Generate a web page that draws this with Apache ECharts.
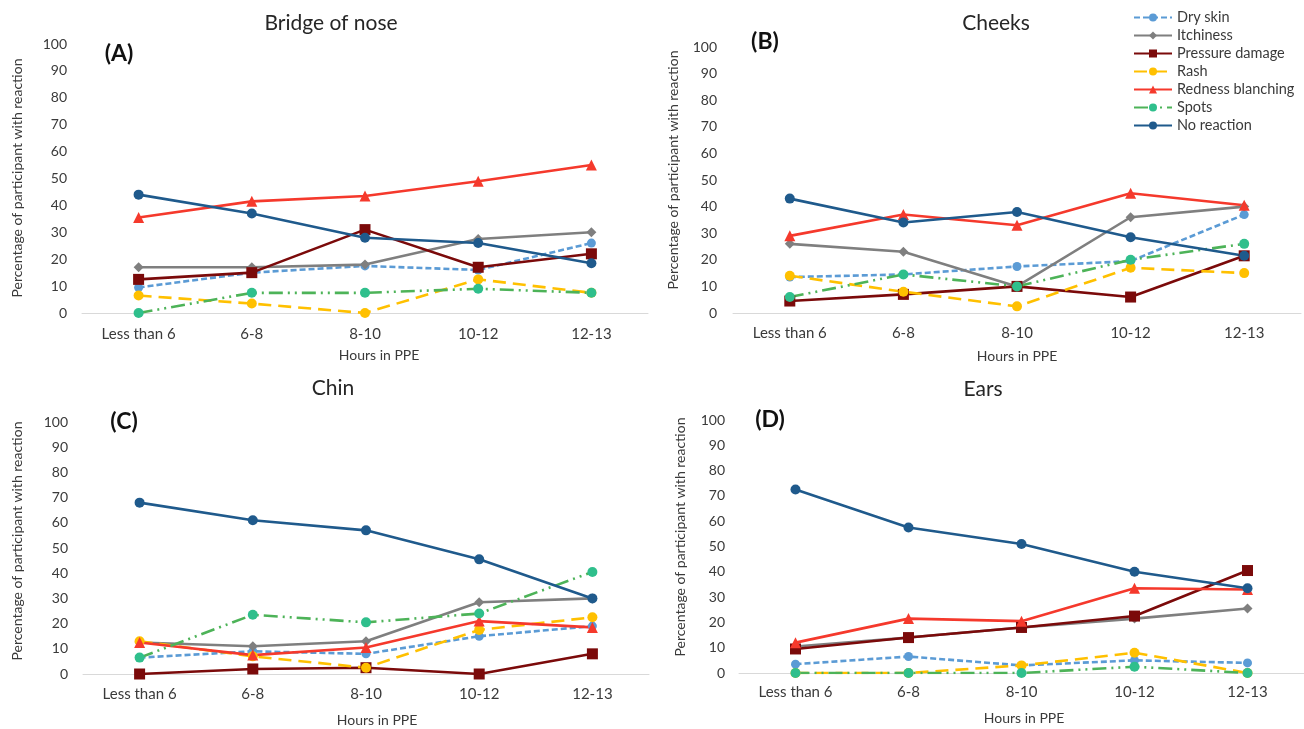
<!DOCTYPE html>
<html>
<head>
<meta charset="utf-8">
<script src="https://cdn.jsdelivr.net/npm/echarts@6/dist/echarts.min.js"></script>
<style>
html,body{margin:0;padding:0;background:#fff;}
#chart{width:1304px;height:729px;}
</style>
</head>
<body>
<div id="chart"></div>
<script>
// ---- data ----
const categories = ['Less than 6', '6-8', '8-10', '10-12', '12-13'];
const reactions = ['Dry skin', 'Itchiness', 'Pressure damage', 'Rash', 'Redness blanching', 'Spots', 'No reaction'];
const panelTitles = ['Bridge of nose', 'Cheeks', 'Chin', 'Ears'];
const panelLetters = ['(A)', '(B)', '(C)', '(D)'];
const xAxisTitle = 'Hours in PPE';
const yAxisTitle = 'Percentage of participant with reaction';

// Bridge of nose (A)
const noseDrySkin   = [9.5, 15, 17.5, 16, 26];
const noseItchiness = [17, 17, 18, 27.5, 30];
const nosePressure  = [12.5, 15, 31, 17, 22];
const noseRash      = [6.5, 3.5, 0, 12.5, 7.5];
const noseRedness   = [35.5, 41.5, 43.5, 49, 55];
const noseSpots     = [0, 7.5, 7.5, 9, 7.5];
const noseNone      = [44, 37, 28, 26, 18.5];

// Cheeks (B)
const cheekDrySkin   = [13.5, 14.5, 17.5, 19.5, 37];
const cheekItchiness = [26, 23, 10, 36, 40];
const cheekPressure  = [4.5, 7, 10, 6, 21.5];
const cheekRash      = [14, 8, 2.5, 17, 15];
const cheekRedness   = [29, 37, 33, 45, 40.5];
const cheekSpots     = [6, 14.5, 10, 20, 26];
const cheekNone      = [43, 34, 38, 28.5, 21.5];

// Chin (C)
const chinDrySkin   = [6.5, 9, 8, 15, 19];
const chinItchiness = [12.5, 11, 13, 28.5, 30];
const chinPressure  = [0, 2, 2.5, 0, 8];
const chinRash      = [13, 7, 2.5, 17.5, 22.5];
const chinRedness   = [12.5, 7.5, 10.5, 21, 18.5];
const chinSpots     = [6.5, 23.5, 20.5, 24, 40.5];
const chinNone      = [68, 61, 57, 45.5, 30];

// Ears (D)
const earDrySkin   = [3.5, 6.5, 3, 5, 4];
const earItchiness = [10.5, 14, 18, 21.5, 25.5];
const earPressure  = [9.5, 14, 18, 22.5, 40.5];
const earRash      = [0, 0, 3, 8, 0];
const earRedness   = [12, 21.5, 20.5, 33.5, 33];
const earSpots     = [0, 0, 0, 2.5, 0];
const earNone      = [72.5, 57.5, 51, 40, 33.5];

const panelData = [
  [noseDrySkin, noseItchiness, nosePressure, noseRash, noseRedness, noseSpots, noseNone],
  [cheekDrySkin, cheekItchiness, cheekPressure, cheekRash, cheekRedness, cheekSpots, cheekNone],
  [chinDrySkin, chinItchiness, chinPressure, chinRash, chinRedness, chinSpots, chinNone],
  [earDrySkin, earItchiness, earPressure, earRash, earRedness, earSpots, earNone]
];

// ---- styles ----
const FONT = 'Lato, "Liberation Sans", sans-serif';
const TXT = '#3a3a3a';
const styles = [
  {line: '#5B9BD5', mark: '#5B9BD5', type: [6, 3], symbol: 'circle', size: 9},
  {line: '#7F7F7F', mark: '#7F7F7F', type: 'solid', symbol: 'diamond', size: 10},
  {line: '#7B0A0A', mark: '#7B0A0A', type: 'solid', symbol: 'rect', size: 11},
  {line: '#FFC000', mark: '#FFC000', type: [13, 7], symbol: 'circle', size: 10},
  {line: '#F5392C', mark: '#F5392C', type: 'solid', symbol: 'triangle', size: 11},
  {line: '#4DB358', mark: '#2FBF8C', type: [14, 5, 2, 5, 2, 5], symbol: 'circle', size: 10},
  {line: '#1F5A8C', mark: '#1F5A8C', type: 'solid', symbol: 'circle', size: 10}
];

const grids = [
  {left: 82, top: 44, width: 566, height: 269},
  {left: 733, top: 47, width: 568, height: 266},
  {left: 83, top: 422, width: 566, height: 252},
  {left: 739, top: 420, width: 566, height: 253}
];
const labelMargins = [14, 13, 13, 12];
const yLabelMargins = [15, 16, 15, 14];
const titlePos = [[331, 23], [996, 23], [333, 388], [983, 389]];
const letterPos = [[119, 54], [765, 42], [124, 422], [770, 420]];
const xNamePos = [[379, 355], [1017, 356], [377, 720], [1024, 718]];
const yNamePos = [[17, 178], [673, 170], [17, 541], [680, 537]];

const xAxes = grids.map((g, i) => ({
  type: 'category', gridIndex: i, data: categories, boundaryGap: true,
  axisLine: {lineStyle: {color: '#D9D9D9', width: 1}},
  axisTick: {show: false},
  axisLabel: {color: TXT, fontFamily: FONT, fontSize: 15, margin: labelMargins[i]}
}));
const yAxes = grids.map((g, i) => ({
  type: 'value', gridIndex: i, min: 0, max: 100, interval: 10,
  axisLine: {show: false}, axisTick: {show: false}, splitLine: {show: false},
  axisLabel: {color: TXT, fontFamily: FONT, fontSize: 14, margin: yLabelMargins[i]}
}));

const series = [];
panelData.forEach((rows, p) => {
  rows.forEach((vals, r) => {
    const s = styles[r];
    series.push({
      type: 'line', name: reactions[r], xAxisIndex: p, yAxisIndex: p,
      data: vals, symbol: s.symbol, symbolSize: s.size, showSymbol: true,
      lineStyle: {color: s.line, width: 2.6, type: s.type},
      itemStyle: {color: s.mark},
      emphasis: {disabled: true}, animation: false
    });
  });
});

const graphic = [];
panelTitles.forEach((t, i) => {
  graphic.push({type: 'text', x: titlePos[i][0], y: titlePos[i][1],
    style: {text: t, font: '21px ' + FONT, fill: '#262626', textAlign: 'center', textVerticalAlign: 'middle'}});
  graphic.push({type: 'text', x: letterPos[i][0], y: letterPos[i][1],
    style: {text: panelLetters[i], font: 'bold 23px ' + FONT, fill: '#111', textAlign: 'center', textVerticalAlign: 'middle'}});
  graphic.push({type: 'text', x: xNamePos[i][0], y: xNamePos[i][1],
    style: {text: xAxisTitle, font: '14px ' + FONT, fill: TXT, textAlign: 'center', textVerticalAlign: 'middle'}});
  graphic.push({type: 'text', x: yNamePos[i][0], y: yNamePos[i][1], rotation: Math.PI / 2,
    style: {text: yAxisTitle, font: '14px ' + FONT, fill: TXT, textAlign: 'center', textVerticalAlign: 'middle'}});
});

const chart = echarts.init(document.getElementById('chart'), null, {renderer: 'canvas'});
chart.setOption({
  backgroundColor: '#ffffff',
  animation: false,
  grid: grids,
  xAxis: xAxes,
  yAxis: yAxes,
  legend: {
    orient: 'vertical', left: 1128, top: 5, itemWidth: 38, itemHeight: 10, itemGap: 3,
    data: reactions,
    textStyle: {color: TXT, fontFamily: FONT, fontSize: 14.5},
    selectedMode: false
  },
  graphic: graphic,
  series: series
});
</script>
</body>
</html>
